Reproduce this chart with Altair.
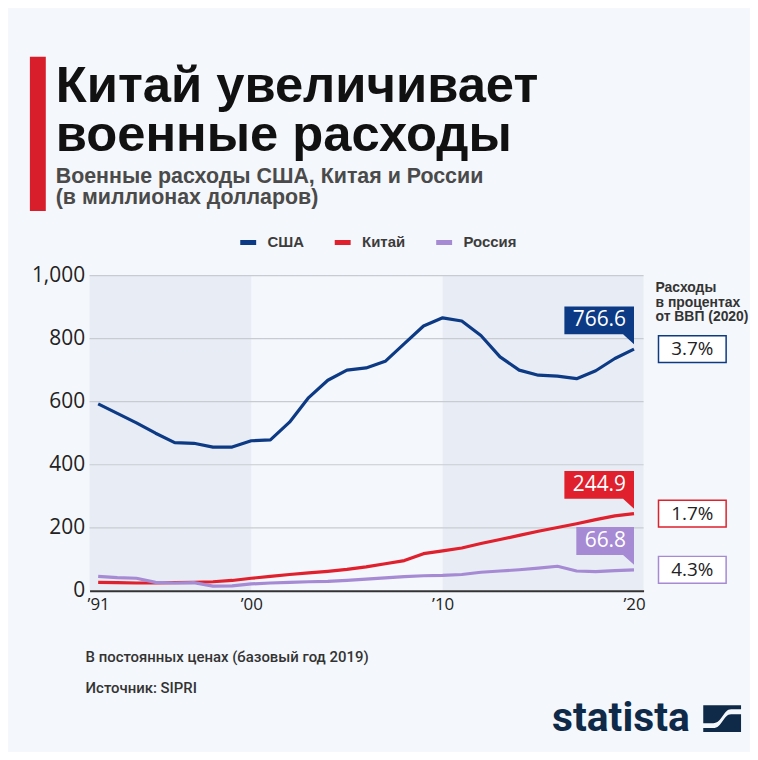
import altair as alt
import pandas as pd

# ---------------- data ----------------
years = list(range(1992, 2021))
usa = [593, 563, 533, 500, 470, 468, 456, 456, 476, 479, 535, 613, 668, 700, 707,
       728, 784, 840, 866, 856, 810, 742, 700, 684, 681, 673, 698, 737, 766.6]
china = [27, 26, 25, 25, 26, 27, 29, 33, 40, 46, 52, 57, 62, 68, 76,
         86, 96, 118, 127, 136, 150, 163, 176, 189, 201, 213, 226, 238, 244.9]
russia = [46, 42, 40, 27, 25, 26, 15, 16, 22, 25, 27, 29, 30, 33, 37,
          41, 45, 48, 49, 52, 59, 63, 67, 72, 78, 63, 61, 64, 66.8]
countries = ["США", "Китай", "Россия"]
last_labels = ["766.6", "244.9", "66.8"]
gdp_share = ["3.7%", "1.7%", "4.3%"]
y_ticks = [0, 200, 400, 600, 800, 1000]
x_ticks = [1992, 2000, 2010, 2020]
x_tick_labels = ["’91", "’00", "’10", "’20"]
decade_start = [1991.55, 2010]
decade_end = [2000, 2020.5]

title_lines = ["Китай увеличивает", "военные расходы"]
subtitle_lines = ["Военные расходы США, Китая и России", "(в миллионах долларов)"]
side_title = ["Расходы", "в процентах", "от ВВП (2020)"]
note = "В постоянных ценах (базовый год 2019)"
source = "Источник: SIPRI"
brand = "statista"

# ---------------- styles ----------------
colors = ["#0d3a84", "#e0202c", "#a68ad3"]
bubble_w = [70, 70, 58]
BG = "#f4f7fb"
BAND = "#e8edf5"
NAVY = "#0f2a48"
W, H = 557, 317

long = pd.DataFrame({
    "year": years * 3,
    "value": usa + china + russia,
    "country": [c for c in countries for _ in years],
})
last = pd.DataFrame({
    "who": countries,
    "year": [years[-1]] * 3,
    "value": [usa[-1], china[-1], russia[-1]],
    "label": last_labels,
    "share": gdp_share,
})
bands_df = pd.DataFrame({"year": decade_start, "end": decade_end})
grid_df = pd.DataFrame({"value": y_ticks[1:]})
dummy = pd.DataFrame({"k": [0]})

xs = alt.Scale(domain=[decade_start[0], decade_end[-1]], nice=False, zero=False)
ys = alt.Scale(domain=[y_ticks[0], y_ticks[-1]], nice=False)

label_expr = " : ".join(
    f"datum.value == {v} ? '{t}'" for v, t in zip(x_ticks, x_tick_labels)
) + " : ''"

x_axis = alt.Axis(
    values=x_ticks, labelExpr=label_expr, grid=False, ticks=False,
    domainColor="#333333", domainWidth=2, labelFontSize=17, labelColor="#222222",
    labelFont="Open Sans", labelPadding=6, title=None, labelFlush=False, zindex=1)
y_axis = alt.Axis(
    values=y_ticks, format=",.0f", grid=False, domain=False, ticks=False,
    labelFontSize=21, labelColor="#222222", labelFont="Open Sans",
    labelPadding=5, title=None)

X = alt.X("year:Q", scale=xs, axis=x_axis)
Y = alt.Y("value:Q", scale=ys, axis=y_axis)

bands = alt.Chart(bands_df).mark_rect(color=BAND).encode(
    x=X, x2="end:Q", y=alt.value(0), y2=alt.value(H),
)

grid = alt.Chart(grid_df).mark_rule(color="#c8ccd2", strokeWidth=1.2).encode(y=Y)

lines = alt.Chart(long).mark_line(strokeWidth=3.2, strokeJoin="round").encode(
    x=X, y=Y,
    color=alt.Color("country:N", scale=alt.Scale(domain=countries, range=colors),
                    legend=alt.Legend(
                        orient="none", legendX=149, legendY=-44, direction="horizontal",
                        title=None, symbolType="stroke", symbolSize=256,
                        symbolStrokeWidth=5, labelFont="Liberation Sans", labelFontSize=15,
                        labelFontWeight="bold", labelColor="#3c3c3c", labelOffset=9,
                        columnPadding=20, padding=0)),
)

# end-of-line value bubbles and GDP-share boxes, one layer per country
end_layers = []
for c, col, w in zip(countries, colors, bubble_w):
    sub = alt.Chart(last).transform_filter(alt.datum.who == c)
    end_layers.append(sub.mark_point(
        shape=f"M{-w},-43H0V-5L-11,-15H{-w}Z", size=4, filled=True,
        fill=col, opacity=1, strokeWidth=0).encode(x=X, y=Y))
    end_layers.append(sub.mark_point(
        shape="M-34,-13.5H34V13.5H-34Z", size=4, filled=True, fill="#ffffff",
        stroke=col, strokeWidth=1.5, opacity=1).encode(x=alt.value(606), y=Y))

bubble_text = alt.Chart(last).mark_text(
    align="right", baseline="middle", dx=-8, dy=-29, fontSize=21,
    font="Open Sans", color="white").encode(x=X, y=Y, text="label:N")

pct_text = alt.Chart(last).mark_text(
    fontSize=19, font="Open Sans", color="#222222", baseline="middle").encode(
    x=alt.value(606), y=Y, text="share:N")


def label(text, x, y, **kw):
    kw.setdefault("align", "left")
    kw.setdefault("baseline", "alphabetic")
    return alt.Chart(dummy).mark_text(text=text, **kw).encode(
        x=alt.value(x), y=alt.value(y))


red_bar = alt.Chart(dummy).mark_rect(color="#d81e2a").encode(
    x=alt.value(-60), x2=alt.value(-44), y=alt.value(-220), y2=alt.value(-65))

title = label(title_lines, -34, -175, font="Liberation Sans", fontSize=51,
              fontWeight="bold", color="#111111", lineHeight=50)
subtitle = label(subtitle_lines, -34, -93, font="Liberation Sans", fontSize=21.5,
                 fontWeight="bold", color="#4a4a4a", lineHeight=21)
side = label(side_title, 569, 16.7, font="Liberation Sans", fontSize=14,
             fontWeight="bold", color="#333333", lineHeight=14.7)
note_t = label(note, -4, 384, baseline="middle", font="Roboto", fontSize=15,
               fontWeight=500, color="#333333")
source_t = label(source, -4, 415, baseline="middle", font="Roboto", fontSize=15,
                 fontWeight=500, color="#333333")
logo_t = label(brand, 465, 458, font="Roboto", fontSize=41, fontWeight="bold", color=NAVY)

icon_top = "M0,0H38V4H28C20,4 19,18 10,18H0Z"
icon_bot = "M38,27H0V23H10C19,23 20,9 28,9H38Z"
icons = [
    alt.Chart(dummy).mark_point(
        shape=p, size=4, filled=True, fill=NAVY, opacity=1, strokeWidth=0).encode(
        x=alt.value(617), y=alt.value(432))
    for p in (icon_top, icon_bot)
]

chart = alt.layer(
    bands, grid, lines, *end_layers, bubble_text, pct_text,
    red_bar, title, subtitle, side, note_t, source_t, logo_t, *icons,
).properties(
    width=W, height=H,
    padding={"left": 82, "top": 267, "right": 107, "bottom": 160},
    autosize=alt.AutoSizeParams(type="none"),
).configure(background=BG).configure_view(stroke=None)

chart.save("out.html", embed_options={"renderer": "svg", "actions": False})
